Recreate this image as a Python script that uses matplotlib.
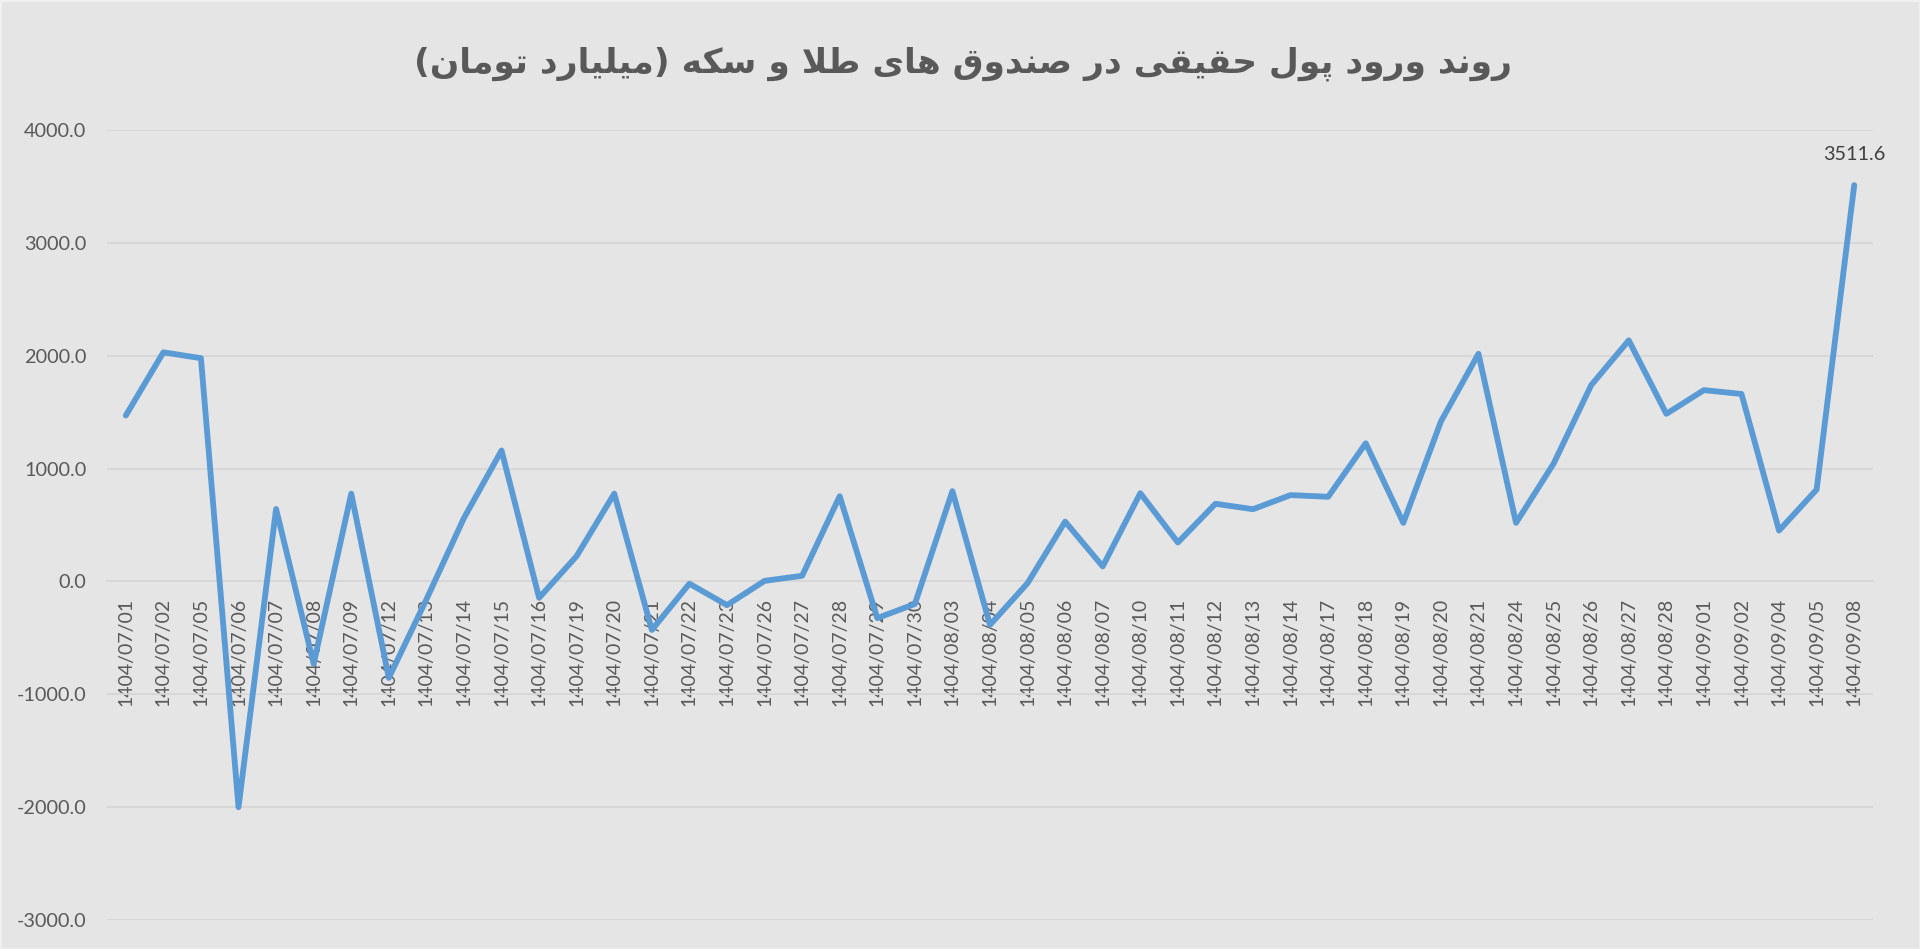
import numpy as np
import matplotlib
matplotlib.use("Agg")
import matplotlib.pyplot as plt
from matplotlib.ticker import FormatStrFormatter
from matplotlib.patches import Rectangle

# Datos
fechas = ["1404/07/01", "1404/07/02", "1404/07/05", "1404/07/06", "1404/07/07",
          "1404/07/08", "1404/07/09", "1404/07/12", "1404/07/13", "1404/07/14",
          "1404/07/15", "1404/07/16", "1404/07/19", "1404/07/20", "1404/07/21",
          "1404/07/22", "1404/07/23", "1404/07/26", "1404/07/27", "1404/07/28",
          "1404/07/29", "1404/07/30", "1404/08/03", "1404/08/04", "1404/08/05",
          "1404/08/06", "1404/08/07", "1404/08/10", "1404/08/11", "1404/08/12",
          "1404/08/13", "1404/08/14", "1404/08/17", "1404/08/18", "1404/08/19",
          "1404/08/20", "1404/08/21", "1404/08/24", "1404/08/25", "1404/08/26",
          "1404/08/27", "1404/08/28", "1404/09/01", "1404/09/02", "1404/09/04",
          "1404/09/05", "1404/09/08"]
valores = [1470, 2030, 1978, -2000, 642,
           -730, 778, -855, -160, 562,
           1160, -145, 225, 778, -430,
           -20, -210, 5, 50, 755,
           -325, -200, 800, -385, -15,
           530, 133, 782, 345, 688,
           640, 765, 750, 1224, 519,
           1417, 2017, 519, 1044, 1739,
           2136, 1485, 1695, 1661, 451,
           814, 3511.6]
titulo = "روند ورود پول حقیقی در صندوق های طلا و سکه (میلیارد تومان)"

# matplotlib no une las letras persas: se usan formas de presentacion y se invierte el orden
formas = {
    "ا": ("\uFE8D", "\uFE8E", None, None),
    "ت": ("\uFE95", "\uFE96", "\uFE97", "\uFE98"),
    "پ": ("\uFB56", "\uFB57", "\uFB58", "\uFB59"),
    "ح": ("\uFEA1", "\uFEA2", "\uFEA3", "\uFEA4"),
    "د": ("\uFEA9", "\uFEAA", None, None),
    "ر": ("\uFEAD", "\uFEAE", None, None),
    "س": ("\uFEB1", "\uFEB2", "\uFEB3", "\uFEB4"),
    "ص": ("\uFEB9", "\uFEBA", "\uFEBB", "\uFEBC"),
    "ط": ("\uFEC1", "\uFEC2", "\uFEC3", "\uFEC4"),
    "ق": ("\uFED5", "\uFED6", "\uFED7", "\uFED8"),
    "ک": ("\uFB8E", "\uFB8F", "\uFB90", "\uFB91"),
    "ل": ("\uFEDD", "\uFEDE", "\uFEDF", "\uFEE0"),
    "م": ("\uFEE1", "\uFEE2", "\uFEE3", "\uFEE4"),
    "ن": ("\uFEE5", "\uFEE6", "\uFEE7", "\uFEE8"),
    "ه": ("\uFEE9", "\uFEEA", "\uFEEB", "\uFEEC"),
    "و": ("\uFEED", "\uFEEE", None, None),
    "ی": ("\uFBFC", "\uFBFD", "\uFBFE", "\uFBFF"),
}


def une_derecha(c):
    # la letra se une con la siguiente
    return c in formas and formas[c][2] is not None


def dar_forma(texto):
    salida = []
    i = 0
    while i < len(texto):
        c = texto[i]
        antes = i > 0 and une_derecha(texto[i - 1]) and c in formas
        if c == "ل" and i + 1 < len(texto) and texto[i + 1] == "ا":
            salida.append("\uFEFC" if antes else "\uFEFB")
            i += 2
            continue
        if c not in formas:
            salida.append(c)
            i += 1
            continue
        despues = une_derecha(c) and i + 1 < len(texto) and texto[i + 1] in formas
        iso, fin, ini, med = formas[c]
        if antes and despues:
            salida.append(med)
        elif antes:
            salida.append(fin)
        elif despues:
            salida.append(ini)
        else:
            salida.append(iso)
        i += 1
    visual = "".join(reversed(salida))
    return visual.translate(str.maketrans("()", ")("))


fondo = "#E5E5E5"
gris = "#595959"

fig = plt.figure(figsize=(19.2, 9.49), dpi=100, facecolor=fondo)
ax = fig.add_axes([107 / 1920, 1 - 920 / 949, (1873 - 107) / 1920, 790 / 949])
ax.set_facecolor(fondo)

x = np.arange(len(fechas))
ax.plot(x, valores, color="#5B9BD5", linewidth=4.2,
        solid_joinstyle="round", solid_capstyle="round", zorder=3)

ax.set_xlim(-0.5, len(fechas) - 0.5)
ax.set_ylim(-3000, 4000)
ax.set_yticks(np.arange(-3000, 4001, 1000))
ax.yaxis.set_major_formatter(FormatStrFormatter("%.1f"))
ax.set_xticks(x, fechas)

ax.grid(axis="y", color="#D6D6D6", linewidth=1.3)
ax.set_axisbelow(True)
for lado in ["top", "right", "left"]:
    ax.spines[lado].set_visible(False)
ax.spines["bottom"].set_position(("data", 0))
ax.spines["bottom"].set_color("#D6D6D6")
ax.spines["bottom"].set_linewidth(1.3)

ax.tick_params(axis="y", length=0, pad=15, labelsize=14.3, labelcolor=gris)
ax.tick_params(axis="x", length=0, pad=12, labelsize=14, labelcolor=gris,
               labelrotation=90)
for t in ax.get_xticklabels() + ax.get_yticklabels():
    t.set_family("Lato")

# Etiqueta del ultimo valor
ax.annotate(f"{valores[-1]:.1f}", (x[-1], valores[-1]), xytext=(0, 22),
            textcoords="offset points", ha="center", va="center",
            fontsize=14.3, color="#404040", family="Lato")

fig.text(963 / 1920, 1 - 64 / 949, dar_forma(titulo), ha="center", va="center",
         fontsize=24.8, fontweight="bold", color=gris, family="DejaVu Sans")

fig.patches.append(Rectangle((0, 0), 1, 1, transform=fig.transFigure,
                             fill=False, edgecolor="#F0F0F0", linewidth=2))

fig.savefig("out.png", dpi=100, facecolor=fondo)
